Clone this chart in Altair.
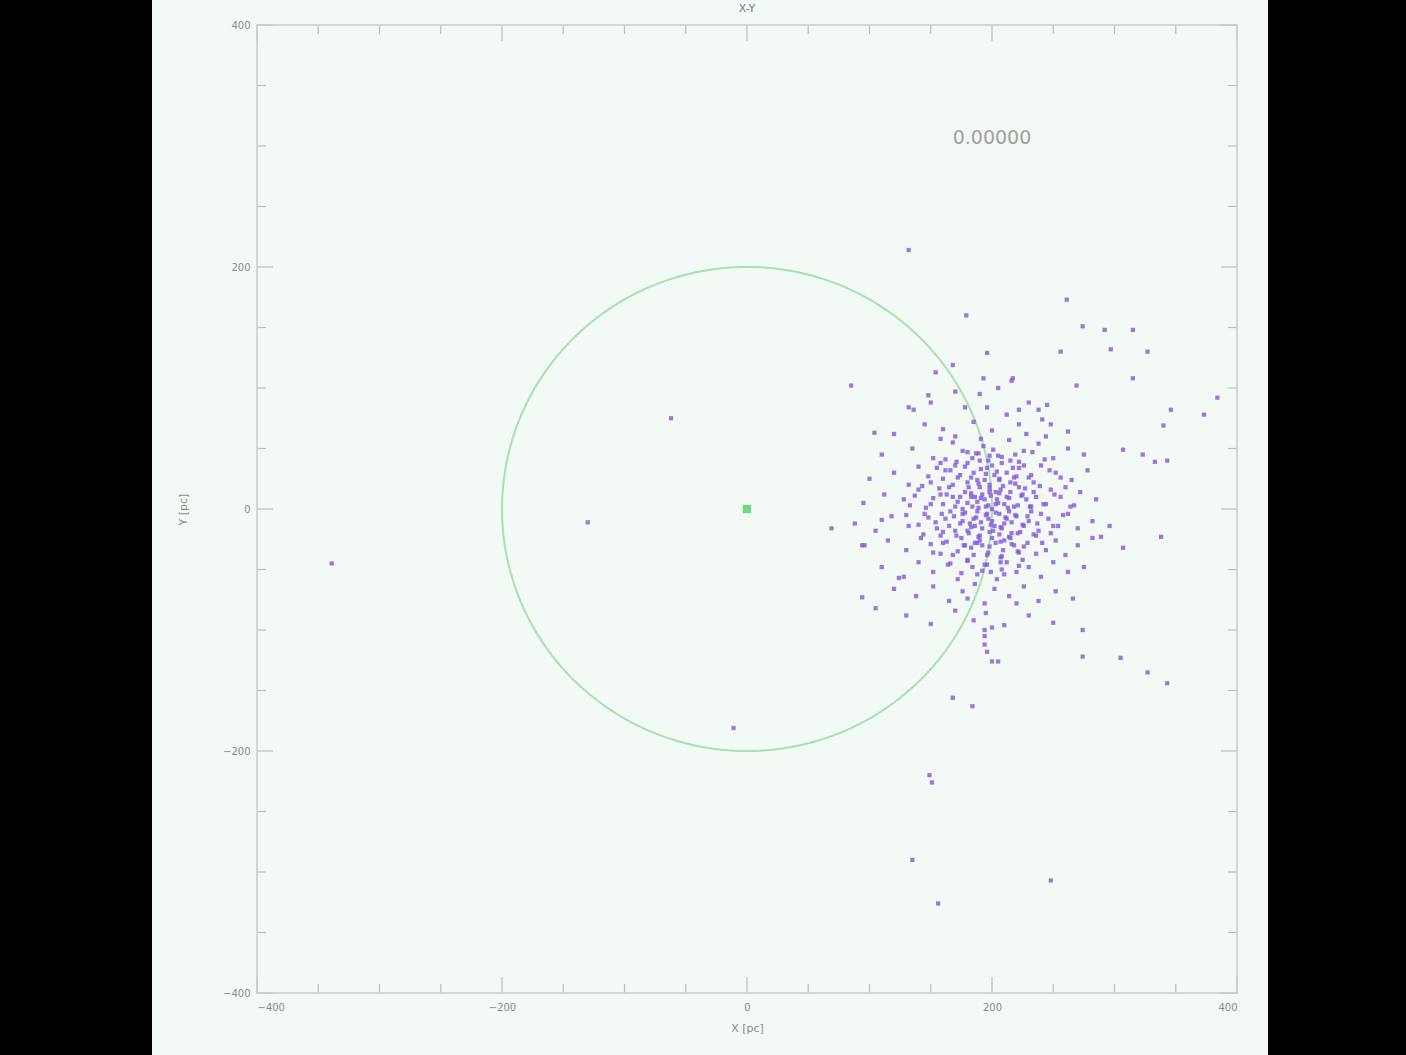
import altair as alt
import pandas as pd
import numpy as np

# ---------------- data ----------------
title_text = "X-Y"
time_label = "0.00000"
time_pos = (200, 307)

major_ticks = [-400, -200, 0, 200, 400]
minor_ticks = [-350, -300, -250, -150, -100, -50, 50, 100, 150, 250, 300, 350]

circle_radius = 200
centre = (0, 0)

outlier_x = [132, 179, 261, 274, 292, 315, 327, 297, 256, 269, 315, 346, 373, 384, 340,
             307, 323, 333, 343, 338, 307, 289, 274, 274, 305, 327, 343, 217, 196, 193,
             168, 154, 85, 104, -62, -130, -339, 69, -11, 149, 151, 135, 156, 248, 168,
             184, 200, 194, 94, 105, 124, 94, 110, 132, 136, 148, 241, 245, 222]
outlier_y = [214, 160, 173, 151, 148, 148, 130, 132, 130, 102, 108, 82, 78, 92, 69,
             49, 45, 39, 40, -23, -32, -23, -100, -122, -123, -135, -144, 108, 129, 108,
             119, 113, 102, 63, 75, -11, -45, -16, -181, -220, -226, -290, -326, -307, -156,
             -163, -126, -100, -73, -82, -57, -30, -9, 20, 82, 94, 74, 86, 82]

cluster_x = [170, 190, 205, 216, 150, 178, 230, 238, 132, 196,
             120, 145, 160, 185, 200, 212, 228, 248, 170, 262, 222,
             110, 135, 152, 168, 180, 193, 205, 214, 226, 238, 250, 262, 275, 158, 190, 244,
             100, 120, 140, 150, 162, 172, 180, 188, 196, 202, 208, 215, 222, 230, 240, 252,
             265, 278, 158, 185, 212, 234, 198, 170,
             95, 112, 128, 140, 150, 158, 165, 172, 178, 184, 190, 194, 198, 203, 207, 212,
             218, 222, 228, 234, 242, 248, 256, 264, 272, 285, 168, 186, 200, 215, 232, 176,
             195, 225,
             88, 105, 118, 132, 145, 155, 162, 170, 176, 182, 188, 192, 197, 201, 206, 210,
             216, 220, 226, 232, 238, 246, 254, 262, 270, 282, 296, 166, 185, 200, 214, 230,
             180, 208,
             96, 115, 130, 142, 152, 160, 168, 175, 183, 190, 196, 203, 209, 215, 222, 229,
             236, 244, 252, 260, 270, 282, 158, 186, 200, 218, 192,
             110, 128, 140, 152, 164, 172, 180, 188, 196, 204, 212, 220, 230, 240, 250, 262,
             275, 184, 208, 225,
             120, 138, 152, 165, 176, 186, 194, 202, 214, 226, 238, 252, 266, 180, 220,
             130, 150, 170, 185, 195, 210, 230, 250, 200,
             194, 194, 196, 205,
             188, 192, 204, 210, 196, 202, 186, 212, 194, 206, 180, 218, 200, 190, 210, 178,
             198, 183, 207, 191, 215, 176, 203, 221, 187, 199]
cluster_y = [97, 95, 100, 106, 88, 84, 88, 82, 84, 84,
             62, 70, 66, 72, 65, 78, 62, 70, 60, 64, 70,
             45, 50, 42, 55, 47, 52, 44, 57, 48, 54, 42, 50, 45, 58, 40, 60,
             25, 30, 35, 22, 32, 26, 38, 24, 34, 28, 38, 22, 34, 26, 36, 30,
             24, 32, 38, 30, 30, 22, 20, 36,
             5, 12, 8, 16, 4, 12, 18, 6, 14, 2, 18, 8, 14, 4, 16, 10,
             2, 18, 8, 14, 4, 16, 10, 2, 14, 8, 10, 10, 0, 14, 2, 0,
             2, 12,
             -12, -18, -6, -14, -4, -16, -8, -18, -4, -12, -2, -16, -8, -18, -4, -12,
             -20, -6, -14, -2, -18, -8, -14, -4, -16, -10, -14, -2, -8, -10, -2, -10,
             -18, -16,
             -30, -26, -34, -24, -36, -28, -38, -24, -32, -22, -38, -28, -34, -24, -36, -28,
             -22, -34, -26, -38, -30, -24, -22, -28, -24, -30, -30,
             -48, -56, -44, -52, -46, -58, -42, -54, -46, -58, -44, -52, -48, -56, -44, -52,
             -48, -48, -50, -42,
             -66, -72, -64, -76, -68, -62, -78, -66, -72, -64, -76, -68, -74, -74, -78,
             -88, -95, -84, -92, -86, -96, -88, -94, -98,
             -105, -112, -118, -126,
             6, 12, 8, 4, -4, -14, -14, -8, 24, 24, 22, 26, 36, -26, -26, -30,
             44, 10, -40, 58, 40, -10, 14, -20, 46, -52]

# dense core of the cluster
core_x = [176, 189, 201, 219, 233,
          162, 171, 184, 197, 208, 222, 243,
          155, 166, 178, 191, 204, 217, 226, 247,
          148, 160, 174, 183, 195, 206, 220, 232, 256,
          143, 157, 168, 181, 189, 198, 209, 219, 227, 239, 260,
          137, 152, 163, 174, 183, 191, 199, 206, 214, 224, 236, 251,
          133, 146, 160, 170, 180, 189, 197, 205, 213, 221, 231, 244, 267,
          130, 148, 159, 169, 178, 187, 195, 203, 211, 219, 229, 240, 258,
          140, 154, 165, 174, 183, 191, 199, 207, 216, 225, 237, 250,
          144, 160, 171, 181, 189, 198, 206, 214, 223, 234, 248,
          150, 163, 177, 188, 198, 207, 216, 226, 241,
          158, 172, 185, 197, 208, 221, 236,
          166, 180, 194, 207, 222,
          175, 192, 210]
core_y = [48, 46, 49, 45, 47,
          41, 39, 42, 40, 43, 39, 41,
          34, 32, 35, 33, 31, 34, 36, 32,
          27, 25, 28, 26, 29, 25, 27, 28, 26,
          19, 17, 20, 18, 21, 17, 19, 21, 17, 19, 18,
          11, 9, 12, 10, 13, 9, 11, 13, 9, 11, 10, 12,
          3, 1, 4, 2, 5, 1, 3, 5, 1, 3, 2, 4, 3,
          -5, -7, -4, -6, -3, -7, -5, -3, -7, -5, -6, -4, -5,
          -13, -11, -14, -12, -15, -11, -13, -15, -11, -13, -12, -14,
          -21, -19, -22, -20, -23, -19, -21, -23, -19, -21, -20,
          -29, -27, -30, -28, -31, -27, -29, -31, -28,
          -37, -35, -38, -36, -39, -35, -37,
          -45, -43, -46, -44, -47,
          -53, -51, -54]

# ---------------- frames ----------------
pts = pd.DataFrame({
    "x": outlier_x + cluster_x + core_x,
    "y": outlier_y + cluster_y + core_y,
})
ang = np.linspace(0, 2 * np.pi, 241)
circ = pd.DataFrame({
    "x": centre[0] + circle_radius * np.cos(ang),
    "y": centre[1] + circle_radius * np.sin(ang),
    "o": np.arange(len(ang)),
})
ctr = pd.DataFrame({"x": [centre[0]], "y": [centre[1]]})
txt = pd.DataFrame({"x": [time_pos[0]], "y": [time_pos[1]], "t": [time_label]})
ttl = pd.DataFrame({"t": [title_text]})
maj = pd.DataFrame({"v": major_ticks})
mnr = pd.DataFrame({"v": minor_ticks})

W, H = 980, 968
xs = alt.Scale(domain=[-400, 400], nice=False, zero=False)
ys = alt.Scale(domain=[-400, 400], nice=False, zero=False)
lab_col = "#8c8c8c"
font = "DejaVu Sans"

xax = alt.Axis(values=major_ticks, title="X [pc]", grid=False, ticks=False, domain=False,
               labelColor=lab_col, labelFontSize=10, labelPadding=9, labelFont=font,
               titleColor=lab_col, titleFontSize=11, titleFont=font, titleFontWeight="normal",
               titlePadding=10, zindex=1)
yax = alt.Axis(values=major_ticks, title="Y [pc]", grid=False, ticks=False, domain=False,
               labelColor=lab_col, labelFontSize=10, labelPadding=7, labelFont=font,
               titleColor=lab_col, titleFontSize=11, titleFont=font, titleFontWeight="normal",
               titlePadding=34, zindex=1)

panel = alt.Chart(ctr).mark_rect(color="#f3f9f5").encode(
    x=alt.value(-105), x2=alt.value(1011), y=alt.value(-25), y2=alt.value(1030))

points = alt.Chart(pts).mark_square(size=18, color="#8457dc", opacity=0.8).encode(
    x=alt.X("x:Q", scale=xs, axis=xax),
    y=alt.Y("y:Q", scale=ys, axis=yax),
)

circle = alt.Chart(circ).mark_line(color="#a6e2ad", strokeWidth=2).encode(
    x=alt.X("x:Q", scale=xs), y=alt.Y("y:Q", scale=ys), order="o:Q")

centre_mark = alt.Chart(ctr).mark_square(size=70, color="#3ccb55").encode(
    x=alt.X("x:Q", scale=xs), y=alt.Y("y:Q", scale=ys))

label = alt.Chart(txt).mark_text(fontSize=19, color="#a0a0a0", font=font).encode(
    x=alt.X("x:Q", scale=xs), y=alt.Y("y:Q", scale=ys), text="t:N")

title_mark = alt.Chart(ttl).mark_text(fontSize=11, color="#7a7a7a", font=font,
                                      baseline="middle").encode(
    x=alt.value(W / 2), y=alt.value(-16), text="t:N")

tick_col = "#bdbdbd"
def ticks(df, length):
    bx = alt.Chart(df).mark_rule(color=tick_col, strokeWidth=1.2).encode(
        x=alt.X("v:Q", scale=xs), y=alt.value(H), y2=alt.value(H - length))
    tx = alt.Chart(df).mark_rule(color=tick_col, strokeWidth=1.2).encode(
        x=alt.X("v:Q", scale=xs), y=alt.value(0), y2=alt.value(length))
    ly = alt.Chart(df).mark_rule(color=tick_col, strokeWidth=1.2).encode(
        y=alt.Y("v:Q", scale=ys), x=alt.value(0), x2=alt.value(length))
    ry = alt.Chart(df).mark_rule(color=tick_col, strokeWidth=1.2).encode(
        y=alt.Y("v:Q", scale=ys), x=alt.value(W), x2=alt.value(W - length))
    return [bx, tx, ly, ry]

frame = alt.Chart(ctr).mark_rect(fill=None, stroke="#c8ccca", strokeWidth=1.5).encode(
    x=alt.value(0), x2=alt.value(W), y=alt.value(0), y2=alt.value(H))

chart = alt.layer(
    panel, circle, points, centre_mark, label, title_mark,
    *ticks(mnr, 9), *ticks(maj, 16), frame
).properties(
    width=W, height=H,
    autosize=alt.AutoSizeParams(type="none"),
    padding={"left": 257, "top": 25, "right": 169, "bottom": 62},
    background="#000000",
).configure_view(stroke=None)

chart.save("out.html", embed_options={"renderer": "svg", "actions": False})
